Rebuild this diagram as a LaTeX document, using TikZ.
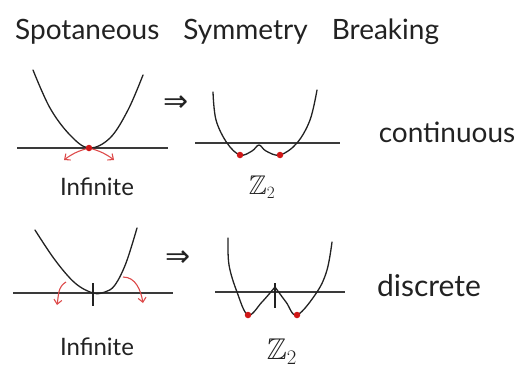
\documentclass[tikz,border=0pt]{standalone}
\usepackage{amssymb}
\usepackage{fontspec}
\setmainfont{Lato}
\newfontfamily\arrowfont{DejaVu Sans}
\usetikzlibrary{arrows.meta}
\definecolor{Ink}{HTML}{222222}
\definecolor{Rule}{HTML}{3A3A3A}
\definecolor{DotRed}{HTML}{D01818}
\definecolor{ArrRed}{HTML}{DD4A4A}

\begin{document}
\begin{tikzpicture}[
  x=1pt,y=-1pt,
  well/.style={draw=Ink,line width=1.3pt,line cap=round,line join=round},
  axis/.style={draw=Rule,line width=1.4pt},
  tick/.style={draw=Ink,line width=1.1pt},
  vac/.style={circle,fill=DotRed,inner sep=0pt,minimum size=6.5pt},
  roll/.style={draw=ArrRed,line width=1.1pt,-{Straight Barb[length=4.5pt,width=8pt]}},
  hand/.style={text=Ink,inner sep=0pt},
  imp/.style={text=Ink,inner sep=0pt,font=\arrowfont\fontsize{30}{30}\selectfont}
]
\useasboundingbox (0,0) rectangle (518,369);

% title
\node[hand,font=\fontsize{28}{28}\selectfont,anchor=west] (title) at (15,32)
  {Spotaneous\hspace{24pt}Symmetry\hspace{24pt}Breaking};

% continuous row
\draw[axis] (17,148) -- (168,148);
\draw[well] plot[smooth,tension=0.6] coordinates
  {(33,70) (50,108) (70,135) (89,148) (110,138) (128,110) (143,75)};
\node[vac] (minA) at (89,148) {};
\coordinate (endAl) at (64,160);
\coordinate (endAr) at (114,160);
\draw[roll] (minA) to[bend right=10] (endAl);
\draw[roll] (minA) to[bend left=10] (endAr);
\node[hand,font=\fontsize{24}{24}\selectfont] (infA) at (97,187) {Infinite};

\node[imp] (impA) at (176,104) {⇒};

\draw[axis] (195,143) -- (340,143);
\draw[well] plot[smooth,tension=0.6] coordinates
  {(213,92) (216,120) (227,143) (240,155) (252,151) (259,145) (266,151) (280,155) (297,143) (310,120) (317,90)};
\node[vac] (minB) at (240,155) {};
\node[vac] (minC) at (280,155) {};
\node[hand,font=\fontsize{27}{27}\selectfont] (zA) at (262,187) {$\mathbb{Z}_2$};

\node[hand,font=\fontsize{28}{28}\selectfont] (cont) at (447,132) {continuous};

% discrete row
\draw[axis] (13,293) -- (173,293);
\draw[well] plot[smooth,tension=0.6] coordinates
  {(35,230) (55,260) (75,283) (93,293) (105,292) (115,285) (126,263) (137,228)};
\draw[tick] (93,283) -- (93,306);
\coordinate (startBl) at (66,282);
\coordinate (endBl) at (57,305);
\coordinate (startBr) at (123,277);
\coordinate (endBr) at (143,303);
\draw[roll] (startBl) to[out=210,in=80] (endBl);
\draw[roll] (startBr) to[out=0,in=100] (endBr);
\node[hand,font=\fontsize{24}{24}\selectfont] (infB) at (97,347) {Infinite};

\node[imp] (impB) at (178,259) {⇒};

\draw[axis] (215,292) -- (345,292);
\draw[well] plot[smooth,tension=0.6] coordinates
  {(228,238) (229,265) (237,292) (248,315) (262,302) (275,287)};
\draw[well] plot[smooth,tension=0.6] coordinates
  {(275,287) (286,302) (297,315) (317,292) (327,270) (332,242)};
\draw[tick] (275,283) -- (275,308);
\node[vac] (minD) at (248,315) {};
\node[vac] (minE) at (297,315) {};
\node[hand,font=\fontsize{30}{30}\selectfont] (zB) at (282,352) {$\mathbb{Z}_2$};

\node[hand,font=\fontsize{30}{30}\selectfont] (disc) at (429,286) {discrete};
\end{tikzpicture}
\end{document}
